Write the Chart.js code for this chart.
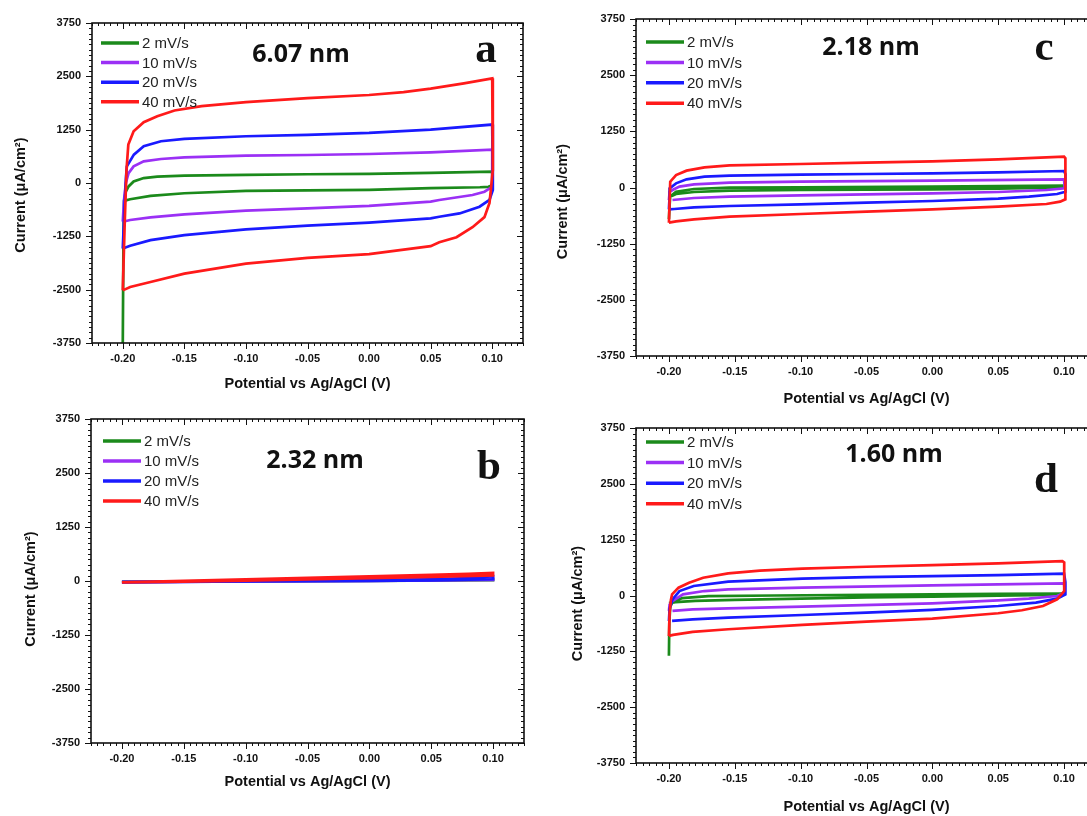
<!DOCTYPE html>
<html>
<head>
<meta charset="utf-8">
<title>CV curves</title>
<script src="https://cdn.jsdelivr.net/npm/chart.js@4.4.0/dist/chart.umd.min.js"></script>
<style>
  html, body { margin: 0; padding: 0; background: #fff; overflow: hidden; }
  body { width: 1087px; height: 816px; position: relative; }
  canvas { position: absolute; }
</style>
</head>
<body>
<canvas id="cvA"></canvas>
<canvas id="cvB"></canvas>
<canvas id="cvC"></canvas>
<canvas id="cvD"></canvas>
<script>
// ─── axis ticks + legend ───────────────────────────
const xTicks = [-0.20, -0.15, -0.10, -0.05, 0.00, 0.05, 0.10];
const yTicks = [-3750, -2500, -1250, 0, 1250, 2500, 3750];
const rates = ['2 mV/s', '10 mV/s', '20 mV/s', '40 mV/s'];

// ─── panel a (6.07 nm): [potential V, current µA/cm²] ───
const a2 = [[-0.2,-3750],[-0.1995,-1500],[-0.199,-420],[-0.1975,-200],[-0.1953,-80],[-0.1912,36],[-0.183,115],[-0.172,150],[-0.15,175],[-0.1,192],[-0.05,205],[0,215],[0.05,235],[0.1,265],
  [0.1,-50],[0.097,-90],[0.09,-100],[0.05,-122],[0,-161],[-0.05,-175],[-0.1,-185],[-0.15,-240],[-0.1775,-302],[-0.194,-381],[-0.199,-420]];
const a10 = [[-0.2,-907],[-0.199,-400],[-0.1975,0],[-0.1953,232],[-0.1912,389],[-0.183,507],[-0.169,562],[-0.15,601],[-0.1,640],[-0.05,656],[0,680],[0.05,719],[0.1,781],
  [0.1,-90],[0.0937,-204],[0.084,-282],[0.057,-399],[0.05,-436],[0,-538],[-0.05,-593],[-0.1,-648],[-0.15,-734],[-0.1775,-805],[-0.194,-868],[-0.2,-907]];
const a20 = [[-0.2,-1535],[-0.1985,-500],[-0.1975,100],[-0.1967,389],[-0.191,664],[-0.183,860],[-0.169,978],[-0.15,1033],[-0.1,1096],[-0.05,1127],[0,1174],[0.05,1253],[0.1,1370],
  [0.1005,-164],[0.0978,-396],[0.0897,-556],[0.0735,-713],[0.057,-791],[0.05,-828],[0,-930],[-0.05,-1001],[-0.1,-1087],[-0.15,-1221],[-0.1775,-1339],[-0.194,-1472],[-0.2,-1535]];
const a40 = [[-0.2,-2517],[-0.1985,-1000],[-0.197,300],[-0.1955,900],[-0.1912,1213],[-0.183,1426],[-0.172,1567],[-0.158,1700],[-0.136,1802],[-0.1,1897],[-0.05,1991],[0,2062],[0.028,2132],[0.05,2211],[0.077,2336],[0.1,2454],
  [0.1005,300],[0.0978,-470],[0.0937,-800],[0.084,-1035],[0.071,-1270],[0.057,-1390],[0.05,-1480],[0,-1669],[-0.05,-1755],[-0.1,-1888],[-0.15,-2124],[-0.1775,-2320],[-0.194,-2438],[-0.2,-2517]];

// ─── panel b (2.32 nm) ───
const b2 = [[-0.2,-15],[0,10],[0.1,35],[0.1,20],[0,0],[-0.2,-20]];
const b10 = [[-0.2,-20],[-0.1,0],[0,15],[0.05,30],[0.1,60],[0.1,25],[0,0],[-0.1,-10],[-0.2,-25]];
const b20 = [[-0.2,-25],[-0.1,0],[0,20],[0.05,40],[0.08,65],[0.1,110],[0.1,40],[0.05,15],[0,5],[-0.1,-10],[-0.2,-30]];
const b40 = [[-0.2,-30],[-0.15,5],[-0.1,40],[-0.05,72],[0,105],[0.05,140],[0.08,165],[0.1,185],
  [0.1,130],[0.05,95],[0,65],[-0.05,35],[-0.1,10],[-0.15,-15],[-0.2,-35]];

// ─── panel c (2.18 nm) ───
const c2 = [[-0.2,-700],[-0.1995,-400],[-0.199,-200],[-0.1946,-93],[-0.181,-33],[-0.154,-4],[-0.1,4],[0,19],[0.1,41],
  [0.1,4],[0.05,-26],[0,-41],[-0.1,-56],[-0.154,-70],[-0.181,-100],[-0.1946,-145],[-0.1979,-189]];
const c10 = [[-0.2,-278],[-0.1995,-100],[-0.1973,-56],[-0.192,19],[-0.181,70],[-0.154,108],[-0.1,130],[0,152],[0.1,182],
  [0.1005,-19],[0.0866,-56],[0.05,-100],[0,-130],[-0.1,-174],[-0.154,-204],[-0.181,-234],[-0.1973,-278]];
const c20 = [[-0.2,-486],[-0.1995,-200],[-0.1995,-19],[-0.1946,93],[-0.1866,182],[-0.173,241],[-0.154,263],[-0.1,286],[-0.05,300],[0,315],[0.05,338],[0.1,367],
  [0.101,300],[0.101,-93],[0.0947,-145],[0.0733,-204],[0.05,-248],[0,-300],[-0.05,-338],[-0.1,-375],[-0.154,-412],[-0.181,-441],[-0.1959,-478],[-0.2,-486]];
const c40 = [[-0.2,-783],[-0.1995,-300],[-0.199,130],[-0.1946,278],[-0.1866,375],[-0.173,449],[-0.154,493],[-0.1,523],[-0.05,553],[0,582],[0.05,627],[0.1,686],
  [0.101,650],[0.101,-263],[0.097,-315],[0.0866,-367],[0.05,-427],[0,-486],[-0.05,-538],[-0.1,-590],[-0.154,-649],[-0.181,-708],[-0.1946,-753],[-0.2,-783]];

// ─── panel d (1.60 nm) ───
const d2 = [[-0.2,-1350],[-0.1997,-600],[-0.199,-250],[-0.197,-130],[-0.19,-60],[-0.17,-15],[-0.12,0],[-0.05,15],[0,25],[0.05,35],[0.1,45],
  [0.1,30],[0.09,15],[0.05,-5],[0,-25],[-0.05,-45],[-0.1,-70],[-0.15,-100],[-0.18,-120],[-0.195,-150],[-0.2,-170]];
const d10 = [[-0.2,-346],[-0.1995,-200],[-0.1973,-123],[-0.1893,26],[-0.1732,100],[-0.155,138],[-0.0987,175],[0,227],[0.1,272],
  [0.1005,63],[0.0947,-11],[0.0732,-71],[0.05,-108],[0,-175],[-0.0987,-250],[-0.155,-287],[-0.182,-309],[-0.1973,-346]];
const d20 = [[-0.2,-570],[-0.1995,-300],[-0.1973,-86],[-0.192,100],[-0.1812,212],[-0.155,309],[-0.0987,376],[-0.05,413],[0,436],[0.05,458],[0.1,488],
  [0.101,300],[0.101,26],[0.0947,-71],[0.0786,-160],[0.05,-235],[0,-324],[-0.05,-384],[-0.0987,-436],[-0.155,-495],[-0.182,-533],[-0.1976,-570]];
const d40 = [[-0.2,-905],[-0.1995,-400],[-0.1985,-100],[-0.1976,26],[-0.1927,175],[-0.1847,287],[-0.174,398],[-0.155,495],[-0.131,555],[-0.0987,600],[-0.05,644],[0,681],[0.05,719],[0.0987,771],
  [0.1001,740],[0.1001,100],[0.0947,-86],[0.084,-235],[0.068,-331],[0.05,-398],[0,-518],[-0.05,-585],[-0.0987,-659],[-0.155,-756],[-0.182,-816],[-0.1968,-883],[-0.2,-905]];

const colors = ['#1b8a1b', '#9b30f5', '#1a1aff', '#ff1a1a'];

Chart.defaults.font.family = '"Liberation Sans", Arial, sans-serif';
Chart.defaults.color = '#111';

// ─── ramka + drobne znaczniki na czterech bokach ───
const frameTicks = {
  id: 'frameTicks',
  afterDatasetsDraw(chart) {
    const { ctx, chartArea: ca, scales: { x, y } } = chart;
    ctx.save();
    ctx.strokeStyle = '#111';
    ctx.lineWidth = 1;
    ctx.beginPath();
    for (let k = -45; k <= 25; k++) {
      const px = Math.round(x.getPixelForValue(k * 0.005)) + 0.5;
      const len = k % 10 === 0 ? 6 : 3;
      ctx.moveTo(px, ca.bottom); ctx.lineTo(px, ca.bottom + len);
      ctx.moveTo(px, ca.top); ctx.lineTo(px, ca.top + len);
    }
    for (let k = -30; k <= 30; k++) {
      const py = Math.round(y.getPixelForValue(k * 125)) + 0.5;
      const len = k % 10 === 0 ? 6 : 3;
      ctx.moveTo(ca.left, py); ctx.lineTo(ca.left - len, py);
      ctx.moveTo(ca.right, py); ctx.lineTo(ca.right - len, py);
    }
    ctx.stroke();
    ctx.lineWidth = 1.6;
    ctx.strokeRect(ca.left, ca.top, ca.right - ca.left, ca.bottom - ca.top);
    ctx.restore();
  }
};

// ─── legenda wewnątrz wykresu ───
const cvLegend = {
  id: 'cvLegend',
  afterDraw(chart, args, o) {
    const { ctx, chartArea: ca } = chart;
    ctx.save();
    ctx.font = '15px "Liberation Sans", Arial, sans-serif';
    ctx.textBaseline = 'middle';
    ctx.textAlign = 'left';
    chart.data.datasets.forEach((ds, i) => {
      const yy = ca.top + o.y + i * o.step;
      const x0 = ca.left + o.x;
      ctx.strokeStyle = ds.borderColor;
      ctx.lineWidth = 3.5;
      ctx.beginPath(); ctx.moveTo(x0, yy); ctx.lineTo(x0 + 38, yy); ctx.stroke();
      ctx.fillStyle = '#222';
      ctx.fillText(ds.label, x0 + 41, yy + 1);
    });
    ctx.restore();
  }
};

// ─── napisy: rozmiar porów + litera panelu ───
const cvText = {
  id: 'cvText',
  afterDraw(chart, args, o) {
    const ctx = chart.ctx;
    ctx.save();
    ctx.fillStyle = '#111';
    ctx.textAlign = 'center';
    ctx.textBaseline = 'alphabetic';
    ctx.font = 'bold 25px "Open Sans", sans-serif';
    ctx.fillText(o.size, o.sx, o.sy);
    ctx.font = 'bold 43px "Liberation Serif", serif';
    ctx.fillText(o.tag, o.tx, o.ty);
    ctx.restore();
  }
};

function makePanel(id, box, loops, legend, text) {
  const cv = document.getElementById(id);
  cv.width = box.w;
  cv.height = box.h;
  cv.style.left = box.left + 'px';
  cv.style.top = box.top + 'px';
  return new Chart(cv, {
    type: 'line',
    data: {
      datasets: loops.map((pts, i) => ({
        label: rates[i],
        data: pts.map(p => ({ x: p[0], y: p[1] })),
        borderColor: colors[i],
        borderWidth: 2.7,
        pointRadius: 0,
        tension: 0,
        fill: false,
        order: loops.length - i
      }))
    },
    options: {
      responsive: false,
      animation: false,
      devicePixelRatio: 1,
      layout: { padding: { top: box.pt, right: box.pr, left: 0, bottom: 0 } },
      plugins: {
        legend: { display: false },
        tooltip: { enabled: false },
        cvLegend: legend,
        cvText: text
      },
      scales: {
        x: {
          type: 'linear', min: -0.225, max: 0.125,
          afterBuildTicks: s => { s.ticks = xTicks.map(v => ({ value: v })); },
          afterFit: s => { s.height = box.axH; },
          grid: { display: false, drawTicks: true, tickLength: 6 },
          border: { display: false },
          ticks: { padding: 3, autoSkip: false, maxRotation: 0, font: { size: 11, weight: 'bold' }, callback: v => v.toFixed(2) },
          title: { display: true, text: 'Potential vs Ag/AgCl (V)', font: { size: 14.5, weight: 'bold' }, padding: { top: 0, bottom: 0 } }
        },
        y: {
          type: 'linear', min: -3750, max: 3750,
          afterBuildTicks: s => { s.ticks = yTicks.map(v => ({ value: v })); },
          afterFit: s => { s.width = box.axW; },
          grid: { display: false, drawTicks: true, tickLength: 6 },
          border: { display: false },
          ticks: { padding: 5, font: { size: 11, weight: 'bold' }, callback: v => String(v) },
          // trailing spaces push the rotated title a little below the axis centre, as in the original
          title: { display: true, text: 'Current (μA/cm²)' + ' '.repeat(box.ts), font: { size: 14.5, weight: 'bold' }, padding: { top: box.tp, bottom: 0 } }
        }
      }
    },
    plugins: [frameTicks, cvLegend, cvText]
  });
}

makePanel('cvA', { left: 0, top: 0, w: 535, h: 393, pt: 23, pr: 12, axW: 92, axH: 50, tp: 12, ts: 6 },
  [a2, a10, a20, a40], { x: 9, y: 20, step: 19.6 },
  { size: '6.07 nm', sx: 301, sy: 62, tag: 'a', tx: 486, ty: 62 });

makePanel('cvB', { left: 0, top: 405, w: 535, h: 386, pt: 14, pr: 11, axW: 91, axH: 48, tp: 22, ts: 4 },
  [b2, b10, b20, b40], { x: 12, y: 22, step: 20 },
  { size: '2.32 nm', sx: 315, sy: 63, tag: 'b', tx: 489, ty: 74 });

makePanel('cvC', { left: 540, top: 0, w: 567, h: 408, pt: 19, pr: 10, axW: 96, axH: 52, tp: 14, ts: 7 },
  [c2, c10, c20, c40], { x: 10, y: 23, step: 20.4 },
  { size: '2.18 nm', sx: 331, sy: 55, tag: 'c', tx: 504, ty: 60 });

makePanel('cvD', { left: 540, top: 410, w: 567, h: 406, pt: 18, pr: 10, axW: 96, axH: 53, tp: 29, ts: 4 },
  [d2, d10, d20, d40], { x: 10, y: 14, step: 20.6 },
  { size: '1.60 nm', sx: 354, sy: 52, tag: 'd', tx: 506, ty: 82 });
</script>
</body>
</html>
